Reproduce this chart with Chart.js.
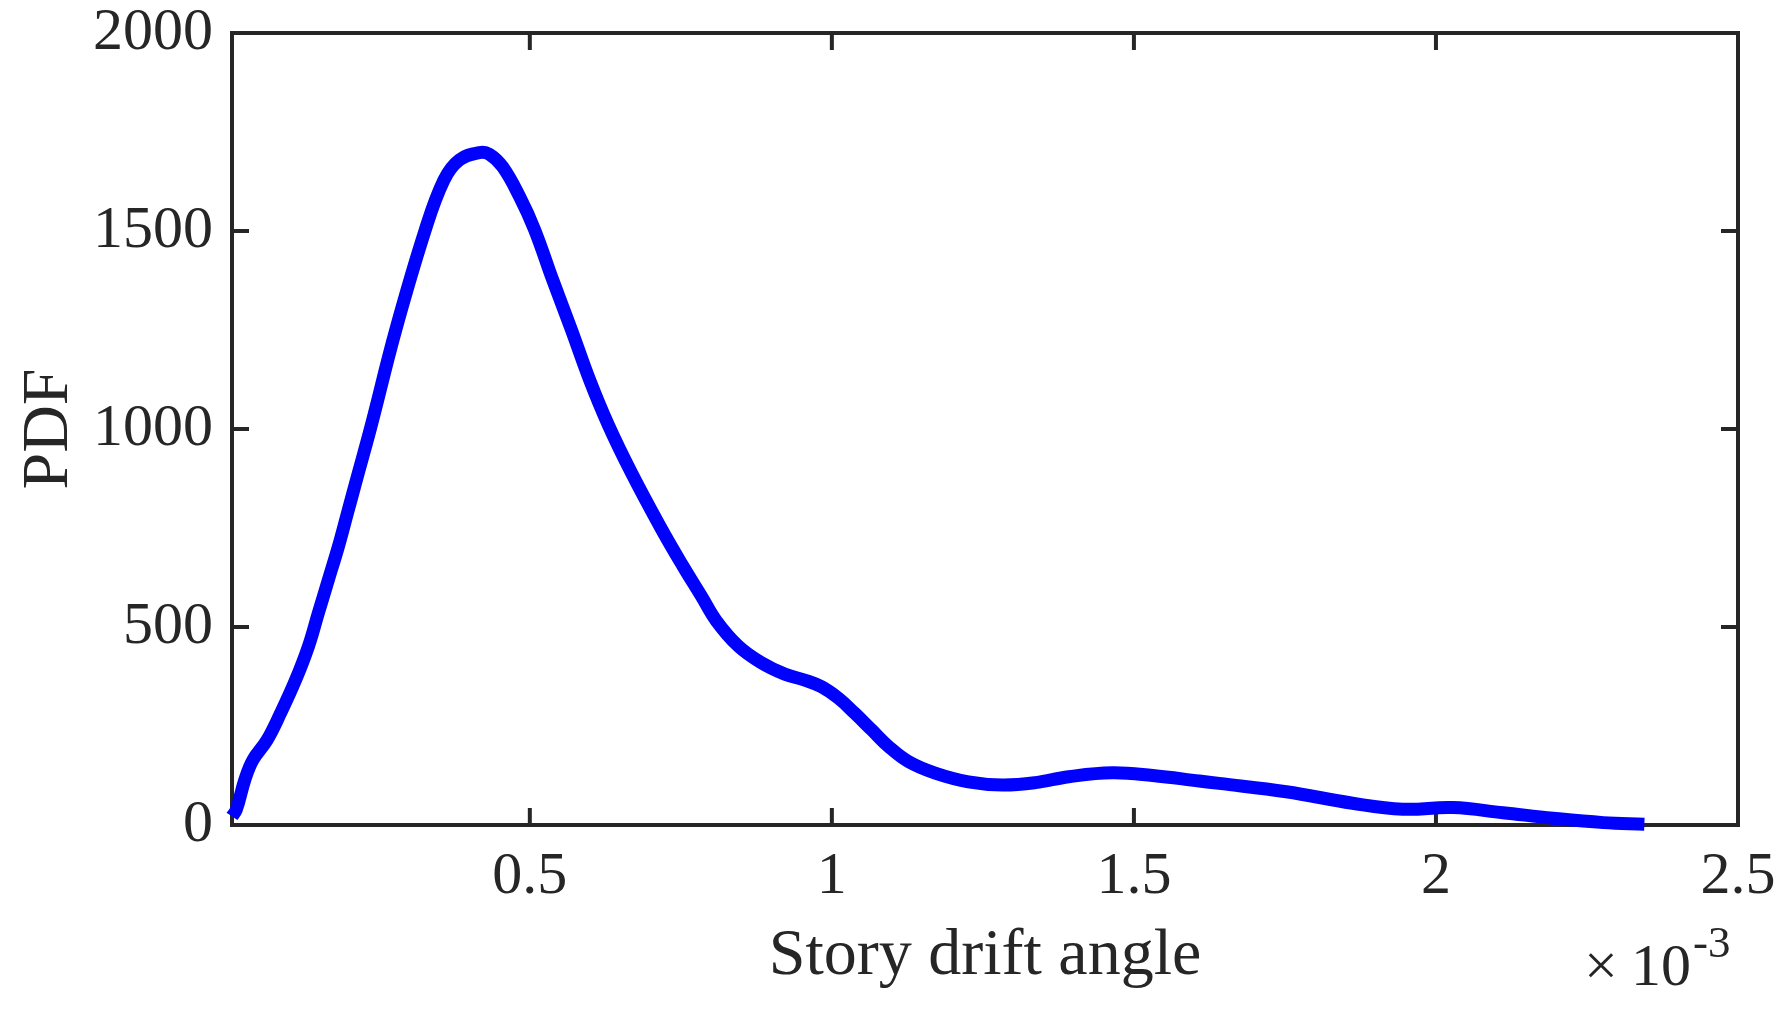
<!DOCTYPE html>
<html><head><meta charset="utf-8">
<script src="https://cdn.jsdelivr.net/npm/chart.js@4"></script>
<style>html,body{margin:0;padding:0;background:#fff;overflow:hidden;}</style>
</head><body>
<canvas id="c" width="1781" height="1010" style="width:1781px;height:1010px;display:block"></canvas>
<script>
// Story drift angle, in units of 10^-3
const driftAngle = [0.007,0.014,0.0282,0.0415,0.0652,0.0873,0.1122,0.1333,0.1499,0.1665,0.1831,0.198,0.2129,0.237,0.278,0.327,0.358,0.383,0.4165,0.433,0.455,0.483,0.508,0.538,0.569,0.599,0.630,0.668,0.717,0.753,0.784,0.809,0.845,0.883,0.922,0.955,0.983,1.011,1.038,1.066,1.094,1.127,1.171,1.226,1.282,1.337,1.392,1.464,1.531,1.608,1.641,1.752,1.862,1.945,2.028,2.111,2.194,2.277,2.345];
const pdfValues  = [22,38,114,164,215,282,366,450,535,619,703,787,871,1006,1250,1503,1629,1679,1698,1694,1662,1587,1503,1376,1250,1124,1010,890,750,655,578,515,452,410,381,366,349,320,282,240,198,160,131,109,101,107,122,132,125,111,105,84,55,40,44,31,17,6,2];
const xTickValues = [0.5,1,1.5,2,2.5];
const yTickValues = [0,500,1000,1500,2000];
const xLabel = 'Story drift angle';
const yLabel = 'PDF';

const FONT = '"Liberation Serif","Times New Roman",serif';
const INK = '#262626';

function noAutoPad(s) {
  s.paddingTop = 0; s.paddingBottom = 0; s.paddingLeft = 0; s.paddingRight = 0;
}

const boxPlugin = {
  id: 'matlabBox',
  beforeDatasetsDraw(chart) {
    const {ctx, chartArea: {left, right, top, bottom}, scales: {x, y}} = chart;
    ctx.save();
    ctx.strokeStyle = INK;
    ctx.lineWidth = 4;
    ctx.strokeRect(left, top, right - left, bottom - top);
    const tl = 17;
    ctx.beginPath();
    xTickValues.forEach(v => {
      const px = x.getPixelForValue(v);
      ctx.moveTo(px, bottom); ctx.lineTo(px, bottom - tl);
      ctx.moveTo(px, top); ctx.lineTo(px, top + tl);
    });
    yTickValues.forEach(v => {
      const py = y.getPixelForValue(v);
      ctx.moveTo(left, py); ctx.lineTo(left + tl, py);
      ctx.moveTo(right, py); ctx.lineTo(right - tl, py);
    });
    ctx.stroke();
    ctx.restore();
  },
  afterDraw(chart) {
    const {ctx} = chart;
    ctx.save();
    ctx.fillStyle = INK;
    ctx.textBaseline = 'alphabetic';
    ctx.textAlign = 'left';
    ctx.font = '60px ' + FONT;
    ctx.fillText('\u00d7', 1584, 985);
    ctx.fillText('10', 1631, 985);
    ctx.font = '45px ' + FONT;
    ctx.fillText('-3', 1693, 957);
    ctx.restore();
  }
};

new Chart(document.getElementById('c'), {
  type: 'line',
  data: {
    datasets: [{
      data: driftAngle.map((v, i) => ({x: v, y: pdfValues[i]})),
      borderColor: '#0000ff',
      borderWidth: 13,
      pointRadius: 0,
      fill: false,
      tension: 0.4,
      clip: false
    }]
  },
  options: {
    responsive: false,
    animation: false,
    devicePixelRatio: 1,
    layout: {autoPadding: false, padding: {top: 33, right: 43, left: 0, bottom: 0}},
    plugins: {legend: {display: false}, tooltip: {enabled: false}},
    scales: {
      x: {
        type: 'linear', position: 'bottom',
        min: 0.007, max: 2.5,
        grid: {display: false, drawTicks: false},
        border: {display: false},
        afterBuildTicks: s => { s.ticks = xTickValues.map(v => ({value: v})); },
        afterFit: s => { s.height = 185; noAutoPad(s); },
        ticks: {
          padding: 22, color: INK, maxRotation: 0, autoSkip: false,
          font: {family: FONT, size: 60, lineHeight: 1},
          callback: v => String(v)
        },
        title: {
          display: true, text: xLabel, color: INK,
          font: {family: FONT, size: 66, lineHeight: 1},
          padding: {top: 0, bottom: 20}
        }
      },
      y: {
        type: 'linear', position: 'left',
        min: 0, max: 2000,
        grid: {display: false, drawTicks: false},
        border: {display: false},
        afterBuildTicks: s => { s.ticks = yTickValues.map(v => ({value: v})); },
        afterFit: s => { s.width = 232; noAutoPad(s); },
        ticks: {
          padding: 19, color: INK, autoSkip: false,
          font: {family: FONT, size: 60, lineHeight: 1},
          callback: v => String(v)
        },
        title: {
          display: true, text: yLabel, color: INK,
          font: {family: FONT, size: 66, lineHeight: 1},
          padding: {top: 17, bottom: 0}
        }
      }
    }
  },
  plugins: [boxPlugin]
});
</script>
</body></html>
